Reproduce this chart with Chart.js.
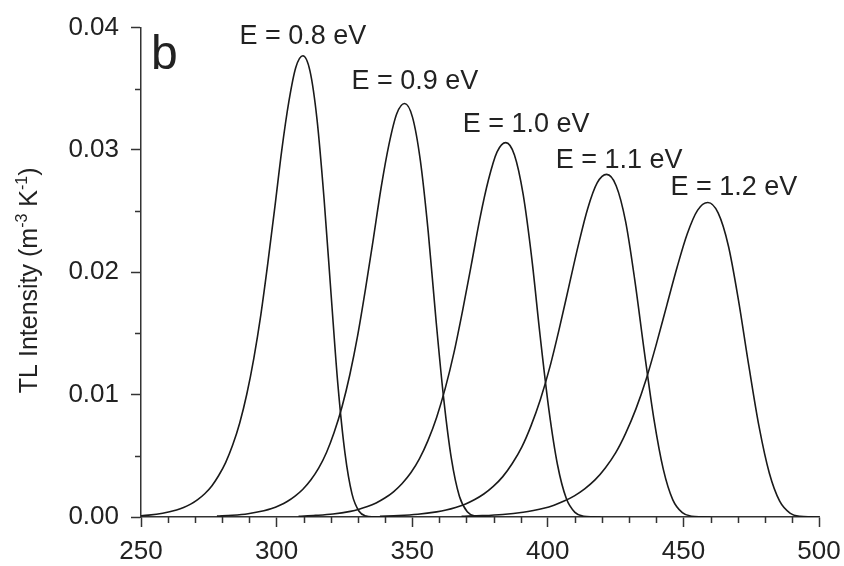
<!DOCTYPE html>
<html>
<head>
<meta charset="utf-8">
<script src="https://cdn.jsdelivr.net/npm/chart.js@4.4.1/dist/chart.umd.min.js"></script>
<style>
  html, body { margin: 0; padding: 0; background: #fff; }
  #wrap { width: 844px; height: 566px; }
</style>
</head>
<body>
<div id="wrap"><canvas id="tlChart" width="844" height="566"></canvas></div>
<script>
// glow curves (temperature in K, intensity in m^-3 K^-1)
const curveNames = ['E = 0.8 eV', 'E = 0.9 eV', 'E = 1.0 eV', 'E = 1.1 eV', 'E = 1.2 eV'];

const temp08 = [247.6, 252.8, 258.0, 263.1, 265.7, 268.3, 270.9, 273.5, 276.1, 278.6, 281.2, 283.8, 286.4, 289.0, 291.6, 294.2, 296.8, 299.4, 301.9, 304.5, 307.1, 309.7, 312.3, 314.9, 317.5, 320.1, 322.6, 325.2, 327.8, 330.4, 333.0, 335.6, 338.2];
const int08 = [0.00008, 0.00015, 0.00030, 0.00057, 0.00077, 0.00105, 0.00142, 0.00190, 0.00254, 0.00337, 0.00445, 0.00588, 0.00769, 0.01003, 0.01297, 0.01655, 0.02081, 0.02541, 0.02997, 0.03393, 0.03676, 0.03770, 0.03646, 0.03250, 0.02601, 0.01817, 0.01082, 0.00524, 0.00189, 0.00047, 0.00008, 0.00001, 0];

const temp09 = [278.0, 283.7, 289.5, 295.3, 298.2, 301.0, 303.9, 306.8, 309.7, 312.6, 315.5, 318.4, 321.2, 324.1, 327.0, 329.9, 332.8, 335.7, 338.5, 341.4, 344.3, 347.2, 350.1, 353.0, 355.9, 358.7, 361.6, 364.5, 367.4, 370.3, 373.2, 376.1, 378.9];
const int09 = [0.00007, 0.00014, 0.00027, 0.00051, 0.00069, 0.00094, 0.00127, 0.00171, 0.00227, 0.00302, 0.00399, 0.00527, 0.00690, 0.00899, 0.01163, 0.01484, 0.01866, 0.02278, 0.02687, 0.03042, 0.03296, 0.03380, 0.03268, 0.02914, 0.02332, 0.01629, 0.00970, 0.00470, 0.00169, 0.00042, 0.00007, 0.00001, 0];

const temp10 = [308.1, 314.4, 320.8, 327.2, 330.4, 333.5, 336.7, 339.9, 343.1, 346.3, 349.5, 352.7, 355.8, 359.0, 362.2, 365.4, 368.6, 371.8, 374.9, 378.1, 381.3, 384.5, 387.7, 390.9, 394.1, 397.2, 400.4, 403.6, 406.8, 410.0, 413.2, 416.4, 419.5];
const int10 = [0.00006, 0.00013, 0.00024, 0.00046, 0.00063, 0.00085, 0.00115, 0.00155, 0.00206, 0.00274, 0.00361, 0.00477, 0.00624, 0.00814, 0.01053, 0.01343, 0.01689, 0.02062, 0.02433, 0.02754, 0.02984, 0.03060, 0.02959, 0.02638, 0.02111, 0.01475, 0.00878, 0.00425, 0.00153, 0.00038, 0.00006, 0.00001, 0];

const temp11 = [338.1, 345.1, 352.1, 359.0, 362.5, 366.0, 369.5, 372.9, 376.4, 379.9, 383.4, 386.9, 390.4, 393.8, 397.3, 400.8, 404.3, 407.8, 411.3, 414.7, 418.2, 421.7, 425.2, 428.7, 432.1, 435.6, 439.1, 442.6, 446.1, 449.6, 453.0, 456.5, 460.0];
const int11 = [0.00006, 0.00011, 0.00022, 0.00042, 0.00057, 0.00078, 0.00105, 0.00141, 0.00188, 0.00250, 0.00330, 0.00437, 0.00571, 0.00745, 0.00963, 0.01229, 0.01546, 0.01887, 0.02226, 0.02520, 0.02730, 0.02800, 0.02708, 0.02414, 0.01932, 0.01350, 0.00804, 0.00389, 0.00140, 0.00035, 0.00006, 0.00001, 0];

const temp12 = [368.2, 375.8, 383.4, 390.9, 394.7, 398.5, 402.3, 406.0, 409.8, 413.6, 417.4, 421.2, 425.0, 428.7, 432.5, 436.3, 440.1, 443.9, 447.7, 451.4, 455.2, 459.0, 462.8, 466.6, 470.3, 474.1, 477.9, 481.7, 485.5, 489.3, 493.0, 496.8, 500];
const int12 = [0.00005, 0.00011, 0.00021, 0.00039, 0.00053, 0.00071, 0.00097, 0.00130, 0.00173, 0.00230, 0.00303, 0.00401, 0.00524, 0.00684, 0.00884, 0.01128, 0.01419, 0.01732, 0.02043, 0.02313, 0.02506, 0.02570, 0.02485, 0.02215, 0.01773, 0.01239, 0.00738, 0.00357, 0.00129, 0.00032, 0.00005, 0.00001, 0];

// where the "E = ..." labels sit, in data units
const labelTemp = [309.7, 351, 392, 426.3, 468.6];
const labelInt = [0.0393, 0.0356, 0.0321, 0.0291, 0.0269];

const xTicks = [250, 300, 350, 400, 450, 500];
const yTicks = [0, 0.01, 0.02, 0.03, 0.04];

const temps = [temp08, temp09, temp10, temp11, temp12];
const ints = [int08, int09, int10, int11, int12];

const ink = '#1a1a1a';
const axisInk = '#333';
const FONT = "'Liberation Sans', Arial, sans-serif";

function toPoints(t, v) {
    return t.map((x, i) => ({ x: x, y: v[i] }));
}

const datasets = curveNames.map((name, i) => ({
    label: name,
    data: toPoints(temps[i], ints[i]),
    borderColor: ink,
    borderWidth: 1.6,
    pointRadius: 0,
    fill: false,
    cubicInterpolationMode: 'monotone'
}));

const extras = {
    id: 'extras',
    afterDraw(chart) {
        const ctx = chart.ctx;
        const xs = chart.scales.x;
        const ys = chart.scales.y;
        const area = chart.chartArea;
        ctx.save();

        // minor ticks
        ctx.strokeStyle = axisInk;
        ctx.lineWidth = 1.5;
        ctx.beginPath();
        for (let t = 260; t < 500; t += 10) {
            if (t % 50 === 0) continue;
            const px = Math.round(xs.getPixelForValue(t)) + 0.5;
            ctx.moveTo(px, area.bottom);
            ctx.lineTo(px, area.bottom + 6);
        }
        for (let k = 1; k < 8; k += 2) {
            const py = Math.round(ys.getPixelForValue(k * 0.005)) + 0.5;
            ctx.moveTo(area.left, py);
            ctx.lineTo(area.left - 6, py);
        }
        ctx.stroke();

        // curve labels
        ctx.fillStyle = '#222';
        ctx.font = '27px ' + FONT;
        ctx.textAlign = 'center';
        ctx.textBaseline = 'middle';
        curveNames.forEach((name, i) => {
            ctx.fillText(name, xs.getPixelForValue(labelTemp[i]), ys.getPixelForValue(labelInt[i]));
        });

        // panel letter
        ctx.font = '48px ' + FONT;
        ctx.textAlign = 'left';
        ctx.textBaseline = 'alphabetic';
        ctx.fillText('b', area.left + 10, area.top + 41);

        // y axis title with superscripts
        const parts = [['TL Intensity (m', 0], ['-3', 1], [' K', 0], ['-1', 1], [')', 0]];
        const big = '25px ' + FONT, small = '16px ' + FONT;
        let total = 0;
        parts.forEach(p => { ctx.font = p[1] ? small : big; total += ctx.measureText(p[0]).width; });
        ctx.translate(37, (area.top + area.bottom) / 2 + 8);
        ctx.rotate(-Math.PI / 2);
        let x = -total / 2;
        parts.forEach(p => {
            ctx.font = p[1] ? small : big;
            ctx.fillText(p[0], x, p[1] ? -10 : 0);
            x += ctx.measureText(p[0]).width;
        });
        ctx.restore();
    }
};

new Chart(document.getElementById('tlChart').getContext('2d'), {
    type: 'line',
    data: { datasets: datasets },
    options: {
        responsive: false,
        animation: false,
        layout: { padding: { top: 23, right: 25, left: 0, bottom: 0 } },
        plugins: { legend: { display: false }, tooltip: { enabled: false } },
        scales: {
            x: {
                type: 'linear',
                min: 250,
                max: 500,
                afterBuildTicks: s => { s.ticks = xTicks.map(v => ({ value: v })); },
                afterFit: s => { s.height = 49; s.paddingRight = 0; s.paddingLeft = 0; },
                border: { display: true, color: axisInk, width: 1.5 },
                grid: { drawOnChartArea: false, drawTicks: true, tickLength: 10, tickColor: axisInk, tickWidth: 1.5 },
                ticks: { color: '#222', padding: 9, font: { size: 26, family: FONT }, maxRotation: 0 }
            },
            y: {
                min: 0,
                max: 0.04,
                afterBuildTicks: s => { s.ticks = yTicks.map(v => ({ value: v })); },
                afterFit: s => { s.width = 141; },
                border: { display: true, color: axisInk, width: 1.5 },
                grid: { drawOnChartArea: false, drawTicks: true, tickLength: 10, tickColor: axisInk, tickWidth: 1.5 },
                ticks: { color: '#222', padding: 12, font: { size: 26, family: FONT }, callback: v => v.toFixed(2) }
            }
        }
    },
    plugins: [extras]
});
</script>
</body>
</html>
